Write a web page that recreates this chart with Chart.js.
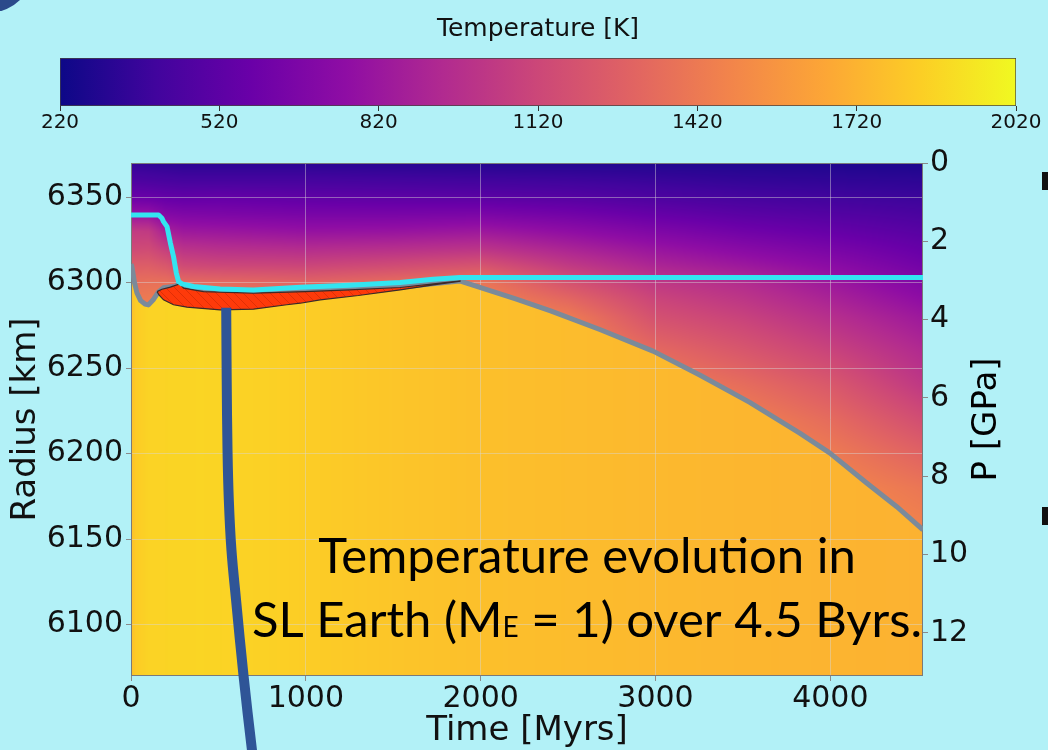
<!DOCTYPE html>
<html>
<head>
<meta charset="utf-8">
<script src="https://cdn.jsdelivr.net/npm/chart.js@4/dist/chart.umd.min.js"></script>
<style>
  html, body { margin: 0; padding: 0; width: 1048px; height: 750px; overflow: hidden; background: #b2f1f7; }
  canvas { position: absolute; left: 0; }
  #cbar { top: 0; }
  #main { top: 140px; }
  .deco { position: absolute; }
</style>
</head>
<body>
<div class="deco" style="left:-50px;top:-70px;width:82px;height:82px;border-radius:50%;background:#2b4a8b;"></div>
<div class="deco" style="left:1042px;top:172px;width:6px;height:18px;background:#111;"></div>
<div class="deco" style="left:1042px;top:507px;width:6px;height:18px;background:#111;"></div>
<canvas id="cbar" width="1048" height="140"></canvas>
<canvas id="main" width="1048" height="610"></canvas>
<script>
// ── Data ──

const TIME_TICKS = [0, 1000, 2000, 3000, 4000];
const RADIUS_TICKS = [6100, 6150, 6200, 6250, 6300, 6350];
const PRESSURE_TICKS = [0, 2, 4, 6, 8, 10, 12];
const CBAR_TICKS = [220, 520, 820, 1120, 1420, 1720, 2020];
const CBAR_MIN = 220;
const CBAR_MAX = 2020;

// temperature field above the lithosphere base (K), one column per time
const GRID_TIMES = [0, 100, 200, 300, 500, 1000, 1500, 2000, 2500, 3000, 3500, 4000, 4530];
const GRID_RADII = [6370, 6360, 6350, 6340, 6330, 6320, 6310, 6300, 6290, 6280, 6260, 6240, 6220, 6200, 6180, 6160, 6140];
const TEMP_0    = [350, 450, 580, 800, 1050, 1130, 1260, 1360, 1420, 1480, 1550, 1600, 1600, 1600, 1600, 1600, 1600];
const TEMP_100  = [340, 440, 570, 790, 1040, 1140, 1260, 1370, 1430, 1500, 1550, 1600, 1600, 1600, 1600, 1600, 1600];
const TEMP_200  = [330, 430, 550, 700, 880, 1060, 1220, 1370, 1450, 1500, 1550, 1600, 1600, 1600, 1600, 1600, 1600];
const TEMP_300  = [320, 420, 540, 680, 830, 990, 1140, 1340, 1450, 1500, 1550, 1600, 1600, 1600, 1600, 1600, 1600];
const TEMP_500  = [320, 420, 550, 670, 820, 970, 1120, 1330, 1450, 1500, 1550, 1600, 1600, 1600, 1600, 1600, 1600];
const TEMP_1000 = [320, 420, 530, 650, 790, 950, 1110, 1300, 1420, 1480, 1550, 1600, 1600, 1600, 1600, 1600, 1600];
const TEMP_1500 = [310, 410, 520, 650, 800, 970, 1150, 1350, 1450, 1500, 1550, 1600, 1600, 1600, 1600, 1600, 1600];
const TEMP_2000 = [300, 400, 510, 660, 830, 1000, 1200, 1400, 1470, 1520, 1560, 1600, 1600, 1600, 1600, 1600, 1600];
const TEMP_2500 = [295, 390, 490, 620, 760, 900, 1040, 1190, 1320, 1430, 1520, 1560, 1600, 1600, 1600, 1600, 1600];
const TEMP_3000 = [290, 370, 450, 560, 680, 800, 910, 1030, 1110, 1180, 1330, 1450, 1520, 1560, 1600, 1600, 1600];
const TEMP_3500 = [285, 350, 420, 510, 610, 720, 830, 950, 1020, 1090, 1220, 1350, 1460, 1520, 1560, 1600, 1600];
const TEMP_4000 = [280, 340, 400, 480, 560, 650, 740, 830, 900, 970, 1100, 1230, 1340, 1430, 1500, 1550, 1600];
const TEMP_4530 = [270, 330, 380, 440, 500, 560, 620, 690, 760, 830, 940, 1030, 1160, 1290, 1400, 1460, 1520];
const TEMP_COLUMNS = [TEMP_0, TEMP_100, TEMP_200, TEMP_300, TEMP_500, TEMP_1000, TEMP_1500,
  TEMP_2000, TEMP_2500, TEMP_3000, TEMP_3500, TEMP_4000, TEMP_4530];

// mantle temperature below the grey line (K)
const MANTLE_TIMES = [0, 30, 100, 400, 800, 1200, 1600, 2000, 2500, 3000, 3500, 4000, 4530];
const MANTLE_TEMPS = [1770, 1830, 1860, 1868, 1850, 1820, 1795, 1775, 1760, 1745, 1733, 1723, 1715];

// grey line (lithosphere base)
const GRAY_TIMES = [0, 6, 20, 34, 55, 80, 100, 127, 156, 185, 253, 276, 400, 700, 1000, 1540, 1880, 2200, 2400, 2685, 2986, 3253, 3539, 3825, 3996, 4206, 4380, 4530];
const GRAY_RADII = [6311, 6309, 6300, 6294, 6289.5, 6287.5, 6287, 6290, 6294.5, 6297, 6298, 6299, 6295.5, 6294.5, 6294.8, 6297.5, 6301, 6290.5, 6283.5, 6272.5, 6260, 6246, 6230, 6212, 6200.5, 6183, 6169, 6155.5];

// cyan line (crust surface)
const CYAN_TIMES = [0, 158, 177, 186, 206, 225, 243, 259, 272, 291, 358, 510, 701, 968, 1250, 1539, 1729, 1882, 4530];
const CYAN_RADII = [6339.6, 6339.6, 6337.7, 6335.7, 6332.8, 6323.3, 6315.3, 6305.8, 6300.7, 6299.3, 6297.8, 6296.3, 6295.7, 6297.3, 6298.5, 6300.1, 6302, 6303, 6303];

// melt region (red, hatched)
const MELT_TOP_TIMES = [149, 177, 225, 278, 301, 415, 701, 996, 1250, 1539, 1882];
const MELT_TOP_RADII = [6294.8, 6296.2, 6297.4, 6299.3, 6296.8, 6294.8, 6293.9, 6294.8, 6295.8, 6297.2, 6301.1];
const MELT_BOTTOM_TIMES = [149, 160, 186, 243, 320, 510, 701, 891, 968, 1082, 1300, 1539, 1729, 1882];
const MELT_BOTTOM_RADII = [6294.8, 6292.8, 6290, 6287.1, 6285.7, 6284.1, 6284.5, 6287.1, 6288, 6290, 6292.5, 6295.8, 6298.7, 6300.9];

// slide pointer (thick blue line)
const ARROW_TIMES = [544.6, 547.4, 552, 559.4, 574.3, 600.6, 643.4, 691.4, 727.4];
const ARROW_RADII = [6285.3, 6243.2, 6202.3, 6173.2, 6144, 6114.8, 6070.4, 6027.1, 5997.9];

// ── Helpers ──

const PLASMA_HEX = ["#0d0887", "#41049d", "#6a00a8", "#8f0da4", "#b12a90", "#cc4778", "#e16462", "#f2844b", "#fca636", "#fcce25", "#f0f921"];
const PLASMA = PLASMA_HEX.map((h) => [1, 3, 5].map((i) => parseInt(h.slice(i, i + 2), 16)));

function plasma(v) {
  v = Math.max(0, Math.min(1, v));
  const f = v * 10;
  const i = Math.min(9, Math.floor(f));
  const u = f - i;
  const a = PLASMA[i], b = PLASMA[i + 1];
  return [a[0] + (b[0] - a[0]) * u, a[1] + (b[1] - a[1]) * u, a[2] + (b[2] - a[2]) * u];
}

function bracket(arr, v) {
  const asc = arr[arr.length - 1] > arr[0];
  for (let i = 0; i < arr.length - 1; i++) {
    const a = arr[i], b = arr[i + 1];
    if (asc ? v <= b : v >= b) return [i, Math.max(0, Math.min(1, (v - a) / (b - a)))];
  }
  return [arr.length - 2, 1];
}

function lookup(xs, ys, v) {
  const [i, u] = bracket(xs, v);
  return ys[i] + (ys[i + 1] - ys[i]) * u;
}

function points(xs, ys) {
  return xs.map((x, i) => ({ x, y: ys[i] }));
}

const FONT = "DejaVu Sans";

// ── Colour bar ──

new Chart(document.getElementById("cbar"), {
  type: "bar",
  data: {
    labels: [""],
    datasets: [{
      data: [[CBAR_MIN, CBAR_MAX]],
      barPercentage: 1,
      categoryPercentage: 1,
      borderWidth: 1,
      borderColor: "#444",
      borderSkipped: false,
      backgroundColor(c) {
        const ch = c.chart;
        if (!ch.chartArea) return "#cc4778";
        const xs = ch.scales.x;
        const g = ch.ctx.createLinearGradient(xs.getPixelForValue(CBAR_MIN), 0, xs.getPixelForValue(CBAR_MAX), 0);
        PLASMA_HEX.forEach((h, i) => g.addColorStop(i / 10, h));
        return g;
      },
    }],
  },
  options: {
    indexAxis: "y",
    responsive: false,
    animation: false,
    layout: { padding: { left: 60, right: 32, top: 0, bottom: 5 } },
    plugins: {
      legend: { display: false },
      tooltip: { enabled: false },
      title: { display: true, text: "Temperature [K]", color: "#111", font: { family: FONT, size: 25, weight: "normal" }, padding: { top: 14, bottom: 14 } },
    },
    scales: {
      x: {
        type: "linear",
        min: CBAR_MIN,
        max: CBAR_MAX,
        afterBuildTicks: (s) => { s.ticks = CBAR_TICKS.map((v) => ({ value: v })); },
        ticks: { color: "#111", font: { family: FONT, size: 20 }, padding: 0, maxRotation: 0, autoSkip: false, callback: (v) => String(v) },
        grid: { drawOnChartArea: false, drawTicks: true, tickLength: 5, color: "#333" },
        border: { display: false },
      },
      y: { display: false },
    },
  },
});

// ── Main chart plugins ──

const heatmapPlugin = {
  id: "heatmap",
  beforeDraw(chart) {
    const { ctx, chartArea: a, scales } = chart;
    const xs = scales.x, ys = scales.y;
    const w = Math.round(a.right - a.left), h = Math.round(a.bottom - a.top);
    const off = document.createElement("canvas");
    off.width = w; off.height = h;
    const octx = off.getContext("2d");
    const img = octx.createImageData(w, h);
    const rows = [];
    for (let j = 0; j < h; j++) {
      const r = ys.getValueForPixel(a.top + j + 0.5);
      rows.push(bracket(GRID_RADII, r).concat(r));
    }
    for (let i = 0; i < w; i++) {
      const t = xs.getValueForPixel(a.left + i + 0.5);
      const [ci, cu] = bracket(GRID_TIMES, t);
      const c0 = TEMP_COLUMNS[ci], c1 = TEMP_COLUMNS[ci + 1];
      const rBase = lookup(GRAY_TIMES, GRAY_RADII, t);
      const tMantle = lookup(MANTLE_TIMES, MANTLE_TEMPS, t);
      for (let j = 0; j < h; j++) {
        const [ri, ru, r] = rows[j];
        let T;
        if (r < rBase) T = tMantle;
        else {
          const a0 = c0[ri] + (c0[ri + 1] - c0[ri]) * ru;
          const a1 = c1[ri] + (c1[ri + 1] - c1[ri]) * ru;
          T = a0 + (a1 - a0) * cu;
        }
        const col = plasma((T - CBAR_MIN) / (CBAR_MAX - CBAR_MIN));
        const k = (j * w + i) * 4;
        img.data[k] = col[0]; img.data[k + 1] = col[1]; img.data[k + 2] = col[2]; img.data[k + 3] = 255;
      }
    }
    octx.putImageData(img, 0, 0);
    ctx.drawImage(off, a.left, a.top);
  },
};

const framePlugin = {
  id: "frame",
  beforeDatasetsDraw(chart) {
    const { ctx, chartArea: a } = chart;
    ctx.save();
    ctx.strokeStyle = "#7a7a7a";
    ctx.lineWidth = 1;
    ctx.strokeRect(a.left + 0.5, a.top + 0.5, a.right - a.left - 1, a.bottom - a.top - 1);
    ctx.restore();
  },
};

const textPlugin = {
  id: "texts",
  afterDatasetsDraw(chart) {
    const { ctx, chartArea: a } = chart;
    ctx.save();
    ctx.fillStyle = "#000";
    // right axis title, reading bottom to top
    ctx.save();
    ctx.translate(987, (a.top + a.bottom) / 2);
    ctx.rotate(-Math.PI / 2);
    ctx.textAlign = "center";
    ctx.textBaseline = "middle";
    ctx.font = `34px "${FONT}"`;
    ctx.fillText("P [GPa]", 0, 0);
    ctx.restore();

    // annotation
    const cx = 587;
    const big = '49px "Lato"', small = '28px "Lato"';
    ctx.textBaseline = "alphabetic";
    ctx.textAlign = "left";
    ctx.font = big;
    const l1 = "Temperature evolution in";
    ctx.fillText(l1, cx - ctx.measureText(l1).width / 2, a.top + 410);
    const parts = [["SL Earth (M", big], ["E", small], [" = 1) over 4.5 Byrs.", big]];
    let total = 0;
    parts.forEach(([s, f]) => { ctx.font = f; total += ctx.measureText(s).width; });
    let px = cx - total / 2;
    parts.forEach(([s, f]) => { ctx.font = f; ctx.fillText(s, px, a.top + 474); px += ctx.measureText(s).width; });
    ctx.restore();
  },
};

// ── Main chart ──

const mainCanvas = document.getElementById("main");
const hatch = document.createElement("canvas");
hatch.width = 9; hatch.height = 9;
{
  const h = hatch.getContext("2d");
  h.fillStyle = "#fe3a0a";
  h.fillRect(0, 0, 9, 9);
  h.strokeStyle = "rgba(170,30,0,0.35)";
  h.lineWidth = 1;
  h.beginPath();
  h.moveTo(-1, -1); h.lineTo(10, 10);
  h.moveTo(-1, 8); h.lineTo(1, 10);
  h.moveTo(8, -1); h.lineTo(10, 1);
  h.stroke();
}
const hatchPattern = mainCanvas.getContext("2d").createPattern(hatch, "repeat");

const meltShape = points(MELT_TOP_TIMES, MELT_TOP_RADII).concat(points(MELT_BOTTOM_TIMES, MELT_BOTTOM_RADII).reverse());

const tickFont = { family: FONT, size: 30 };
const titleFont = { family: FONT, size: 34, lineHeight: 1.1 };
const gridColor = "rgba(215,215,215,0.45)";

new Chart(mainCanvas, {
  type: "line",
  data: {
    datasets: [
      { label: "pointer", data: points(ARROW_TIMES, ARROW_RADII), borderColor: "#2f5597", borderWidth: 10, borderCapStyle: "butt", tension: 0.4, clip: false, pointRadius: 0, fill: false, order: 0 },
      { label: "surface", data: points(CYAN_TIMES, CYAN_RADII), borderColor: "#33e5f1", borderWidth: 5, borderJoinStyle: "round", tension: 0, pointRadius: 0, fill: false, order: 1 },
      { label: "melt", data: meltShape, borderColor: "#3a2a2a", borderWidth: 1.2, backgroundColor: hatchPattern, fill: "shape", tension: 0, pointRadius: 0, order: 2 },
      { label: "base", data: points(GRAY_TIMES, GRAY_RADII), borderColor: "#7b8a9a", borderWidth: 5, borderJoinStyle: "round", tension: 0, pointRadius: 0, fill: false, order: 3 },
    ],
  },
  options: {
    responsive: false,
    animation: false,
    layout: { padding: { left: 0, right: 0, top: 23, bottom: 0 } },
    plugins: { legend: { display: false }, tooltip: { enabled: false } },
    scales: {
      x: {
        type: "linear",
        min: 0,
        max: 4530,
        afterBuildTicks: (s) => { s.ticks = TIME_TICKS.map((v) => ({ value: v })); },
        afterFit: (s) => { s.height = 74; },
        ticks: { color: "#111", font: tickFont, padding: 0, maxRotation: 0, autoSkip: false, callback: (v) => String(v) },
        grid: { color: gridColor, tickColor: "#8a8a8a", tickLength: 5 },
        border: { display: false },
        title: { display: true, text: "Time [Myrs]", color: "#111", font: titleFont, padding: { top: 0, bottom: 0 } },
      },
      y: {
        type: "linear",
        position: "left",
        min: 6070,
        max: 6370,
        afterBuildTicks: (s) => { s.ticks = RADIUS_TICKS.map((v) => ({ value: v })); },
        afterFit: (s) => { s.width = 131; },
        ticks: { color: "#111", font: tickFont, padding: 3, autoSkip: false, callback: (v) => String(v) },
        grid: { color: gridColor, tickColor: "#8a8a8a", tickLength: 5 },
        border: { display: false },
        title: { display: true, text: "Radius [km]", color: "#111", font: titleFont, padding: { top: 7, bottom: 0 } },
      },
      y2: {
        type: "linear",
        position: "right",
        min: 0,
        max: 13.1,
        reverse: true,
        afterBuildTicks: (s) => { s.ticks = PRESSURE_TICKS.map((v) => ({ value: v })); },
        afterFit: (s) => { s.width = 125; },
        ticks: { color: "#111", font: tickFont, padding: 2, autoSkip: false, callback: (v) => String(v) },
        grid: { drawOnChartArea: false, tickColor: "#8a8a8a", tickLength: 5 },
        border: { display: false },
      },
    },
  },
  plugins: [heatmapPlugin, framePlugin, textPlugin],
});
</script>
</body>
</html>
